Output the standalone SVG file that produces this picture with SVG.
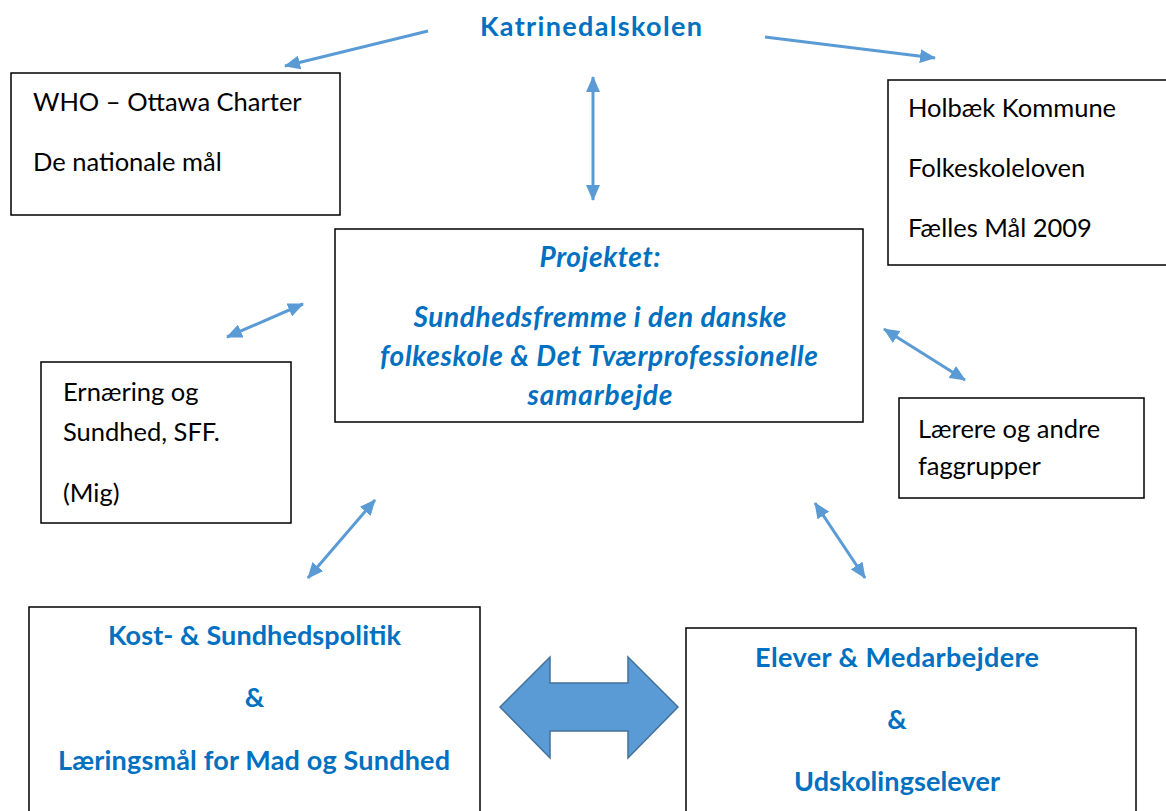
<svg xmlns="http://www.w3.org/2000/svg" width="1166" height="811" viewBox="0 0 1166 811">
  <style>
    .box { fill: #ffffff; stroke: #000000; stroke-width: 1.5; }
    .plain { font-family: Lato, "Open Sans", "Liberation Sans", sans-serif; font-size: 25.5px; fill: #000000; }
    .blue { font-family: Lato, "Open Sans", "Liberation Sans", sans-serif; font-size: 27px; font-weight: bold; fill: #0070C0; }
    .bi { font-style: italic; font-size: 28px; }
    .conn { stroke: #5B9BD5; stroke-width: 3; fill: none; }
  </style>
  <defs>
    <marker id="ah" viewBox="0 0 16 14" refX="15" refY="7" markerWidth="16" markerHeight="14" markerUnits="userSpaceOnUse" orient="auto-start-reverse">
      <path d="M0,0 L16,7 L0,14 z" fill="#5B9BD5"/>
    </marker>
  </defs>
  <rect width="1166" height="811" fill="#ffffff"/>

  <g id="katrinedalskolen">
    <text class="blue" x="591" y="36" text-anchor="middle" textLength="222">Katrinedalskolen</text>
  </g>

  <g id="who">
    <rect class="box" x="11" y="73" width="329" height="142"/>
    <text class="plain" x="33" y="111">WHO – Ottawa Charter</text>
    <text class="plain" x="33" y="171">De nationale mål</text>
  </g>

  <g id="holbaek">
    <rect class="box" x="888" y="80" width="280" height="185"/>
    <text class="plain" x="908" y="117">Holbæk Kommune</text>
    <text class="plain" x="908" y="177">Folkeskoleloven</text>
    <text class="plain" x="908" y="237">Fælles Mål 2009</text>
  </g>

  <g id="projektet">
    <rect class="box" x="335" y="229" width="528" height="193"/>
    <text class="blue bi" x="600" y="267" text-anchor="middle" textLength="121">Projektet:</text>
    <text class="blue bi" x="600" y="327" text-anchor="middle" textLength="373">Sundhedsfremme i den danske</text>
    <text class="blue bi" x="599" y="366" text-anchor="middle" textLength="438">folkeskole &amp; Det Tværprofessionelle</text>
    <text class="blue bi" x="600" y="405" text-anchor="middle" textLength="145">samarbejde</text>
  </g>

  <g id="ernaering">
    <rect class="box" x="41" y="362" width="250" height="161"/>
    <text class="plain" x="63" y="401">Ernæring og</text>
    <text class="plain" x="63" y="441">Sundhed, SFF.</text>
    <text class="plain" x="63" y="502">(Mig)</text>
  </g>

  <g id="laerere">
    <rect class="box" x="899" y="398" width="245" height="100"/>
    <text class="plain" x="918" y="438">Lærere og andre</text>
    <text class="plain" x="918" y="475">faggrupper</text>
  </g>

  <g id="kost">
    <rect class="box" x="29" y="607" width="451" height="210"/>
    <text class="blue" x="254.5" y="645" text-anchor="middle" textLength="293">Kost- &amp; Sundhedspolitik</text>
    <text class="blue" x="254.5" y="707" text-anchor="middle">&amp;</text>
    <text class="blue" x="254" y="770" text-anchor="middle" textLength="392">Læringsmål for Mad og Sundhed</text>
  </g>

  <g id="elever">
    <rect class="box" x="686" y="628" width="450" height="190"/>
    <text class="blue" x="897" y="667" text-anchor="middle" textLength="284">Elever &amp; Medarbejdere</text>
    <text class="blue" x="897" y="729" text-anchor="middle">&amp;</text>
    <text class="blue" x="897" y="791" text-anchor="middle" textLength="206">Udskolingselever</text>
  </g>

  <g id="connectors">
    <line class="conn" x1="428" y1="31" x2="285" y2="66" marker-end="url(#ah)"/>
    <line class="conn" x1="765" y1="37" x2="935" y2="58" marker-end="url(#ah)"/>
    <line class="conn" x1="593" y1="77" x2="593" y2="200" marker-start="url(#ah)" marker-end="url(#ah)"/>
    <line class="conn" x1="227" y1="337" x2="303" y2="304" marker-start="url(#ah)" marker-end="url(#ah)"/>
    <line class="conn" x1="884" y1="329" x2="965" y2="380" marker-start="url(#ah)" marker-end="url(#ah)"/>
    <line class="conn" x1="308" y1="578" x2="375" y2="500" marker-start="url(#ah)" marker-end="url(#ah)"/>
    <line class="conn" x1="815" y1="503" x2="865" y2="578" marker-start="url(#ah)" marker-end="url(#ah)"/>
    <path d="M500,707 L550,657 L550,683 L628,683 L628,657 L678,707 L628,758 L628,731 L550,731 L550,758 Z" fill="#5B9BD5" stroke="#41719C" stroke-width="1.5"/>
  </g>
</svg>
